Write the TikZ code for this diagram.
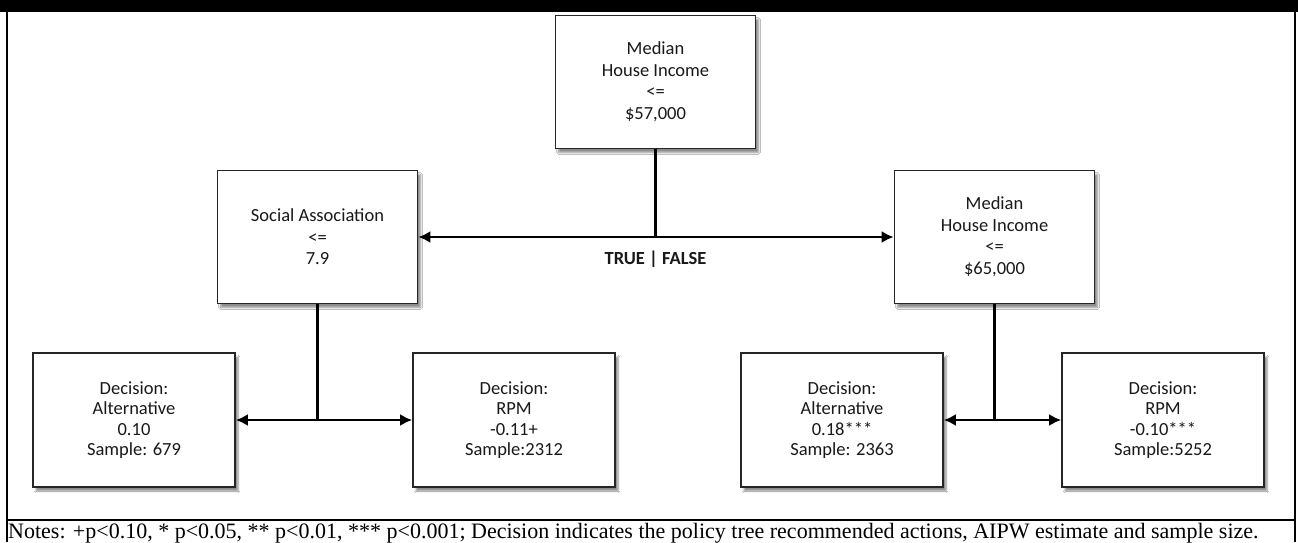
\documentclass[tikz,border=0pt]{standalone}
\usepackage{fontspec}
\setmainfont{Liberation Serif}
\newfontfamily\boxfont{Carlito}
\usepackage{tikz}
\usetikzlibrary{arrows.meta}
\usetikzlibrary{shadows.blur}
\tikzstyle{split} = [draw=black!85, line width=1.6pt, fill=white, minimum width=200pt, minimum height=133pt, align=center, text=black!90, font=\boxfont\fontsize{18.5}{21.5}\selectfont, blur shadow={shadow xshift=3pt, shadow yshift=-4pt, shadow blur steps=6, shadow opacity=45}]
\tikzstyle{leaf} = [split, minimum width=202pt, minimum height=134pt, font=\boxfont\fontsize{18.5}{20.5}\selectfont]
\tikzstyle{link} = [line width=2.4pt, black]
\tikzstyle{arrow} = [link, -{Latex[length=12pt, width=12pt]}]

\begin{document}
\begin{tikzpicture}[x=1pt, y=-1pt]
            \useasboundingbox (0,0) rectangle (1298,542);
            \fill[white] (0,0) rectangle (1298,542);

            % frame of the figure
            \fill[black] (0,0) rectangle (1298,11.5);
            \draw[line width=2pt] (6.5,11) -- (6.5,542);
            \draw[line width=2pt] (1295,11) -- (1295,542);
            \draw[line width=2pt] (5.5,520) -- (1296,520);

            \node[split] (root) at (655.5,82) {Median\\House Income\\<=\\\$57,000};
            \node[split] (social) at (317.5,237) {Social Association\\<=\\7.9};
            \node[split] (income) at (994.5,237) {Median\\House Income\\<=\\\$65,000};

            \node[leaf] (altL) at (134,420) {Decision:\\Alternative\\0.10\\Sample: 679};
            \node[leaf] (rpmL) at (514,420) {Decision:\\RPM\\-0.11+\\Sample:2312};
            \node[leaf] (altR) at (842,420) {Decision:\\Alternative\\0.18***\\Sample: 2363};
            \node[leaf] (rpmR) at (1163,420) {Decision:\\RPM\\-0.10***\\Sample:5252};

            % first split
            \draw[link] (root.south) -- (root.south |- social.east) coordinate (rootfork);
            \draw[arrow] (rootfork) -- (social.east);
            \draw[arrow] (rootfork) -- (income.west);
            \node[font=\boxfont\bfseries\fontsize{18.5}{21}\selectfont, text=black!90] (tf) at (655.5,259) {TRUE | FALSE};

            % second splits
            \draw[link] (social.south) -- (social.south |- altL.east) coordinate (socialfork);
            \draw[arrow] (socialfork) -- (altL.east);
            \draw[arrow] (socialfork) -- (rpmL.west);
            \draw[link] (income.south) -- (income.south |- altR.east) coordinate (incomefork);
            \draw[arrow] (incomefork) -- (altR.east);
            \draw[arrow] (incomefork) -- (rpmR.west);

            \node[anchor=base west, inner sep=0pt, font=\fontsize{22}{23}\selectfont] (notes) at (8,538.5) {Notes: +p<0.10, * p<0.05, ** p<0.01, *** p<0.001; Decision indicates the policy tree recommended actions, AIPW estimate and sample size.};
        \end{tikzpicture}
\end{document}
